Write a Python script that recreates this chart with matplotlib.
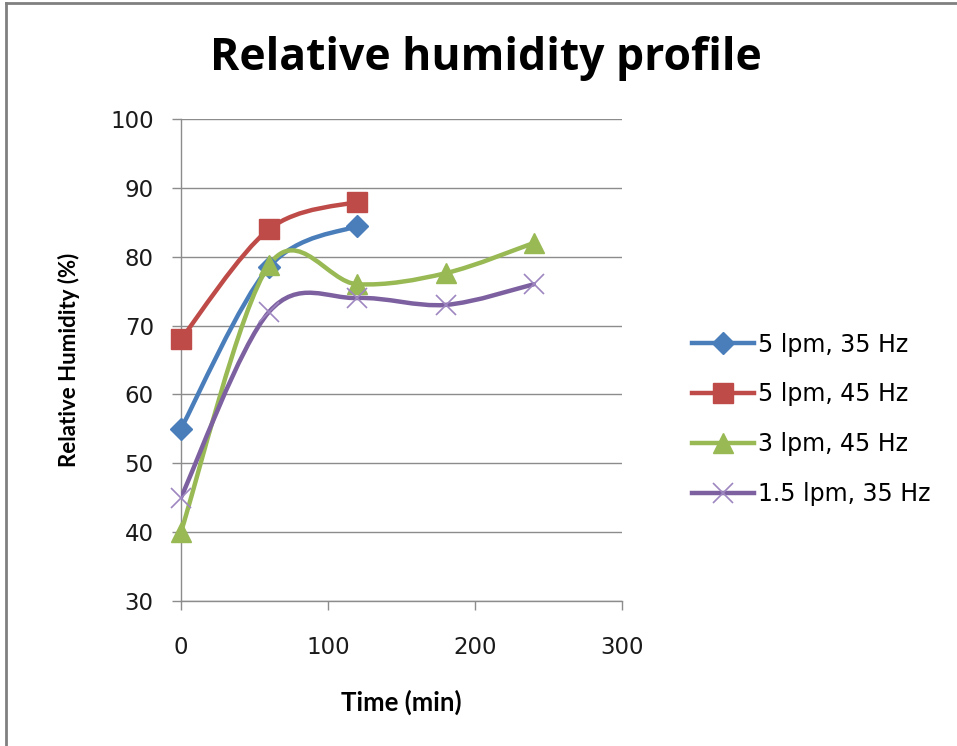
import numpy as np
import matplotlib
matplotlib.use("Agg")
import matplotlib.pyplot as plt
from matplotlib.path import Path
from matplotlib.patches import PathPatch
from matplotlib.lines import Line2D

plt.rcParams['font.family'] = ['DejaVu Sans']

# Series data: time (min) and relative humidity (%)
time_5_35 = [0, 60, 120]
rh_5_35 = [55, 78.5, 84.5]
time_5_45 = [0, 60, 120]
rh_5_45 = [68, 84, 88]
time_3_45 = [0, 60, 120, 180, 240]
rh_3_45 = [40, 78.8, 76, 77.6, 82]
time_15_35 = [0, 60, 120, 180, 240]
rh_15_35 = [45, 72, 74, 73, 76]

labels = ["5 lpm, 35 Hz", "5 lpm, 45 Hz", "3 lpm, 45 Hz", "1.5 lpm, 35 Hz"]
colors = ["#4A7EBB", "#BE4B48", "#98B954", "#7D60A0"]
marker_colors = ["#4A7EBB", "#BE4B48", "#98B954", "#9E86C0"]
markers = ["D", "s", "^", "x"]
msizes = [11, 14, 14, 14]

x_ticks = [0, 100, 200, 300]
y_ticks = [30, 40, 50, 60, 70, 80, 90, 100]

heading_font = ['Lato', 'DejaVu Sans']
title_font = ['Open Sans', 'DejaVu Sans']


def smooth_path(x, y):
    """Cubic Bezier curve through the points (cardinal spline, like spreadsheet smoothing)."""
    x = np.asarray(x, float)
    y = np.asarray(y, float)
    pts = np.column_stack([x, y])
    n = len(pts)
    verts = [pts[0]]
    codes = [Path.MOVETO]
    for i in range(n - 1):
        p0 = pts[i - 1] if i > 0 else pts[i]
        p1 = pts[i]
        p2 = pts[i + 1]
        p3 = pts[i + 2] if i + 2 < n else pts[i + 1]
        c1 = p1 + (p2 - p0) / 6.0
        c2 = p2 - (p3 - p1) / 6.0
        verts += [c1, c2, p2]
        codes += [Path.CURVE4] * 3
    return Path(verts, codes)


fig = plt.figure(figsize=(9.57, 7.46), dpi=100)
ax = fig.add_axes([0.189, 0.1944, 0.461, 0.6461])

series = [(time_5_35, rh_5_35), (time_5_45, rh_5_45),
          (time_3_45, rh_3_45), (time_15_35, rh_15_35)]

handles = []
for (xs, ys), lab, c, mc, m, ms in zip(series, labels, colors, marker_colors, markers, msizes):
    patch = PathPatch(smooth_path(xs, ys), facecolor="none", edgecolor=c,
                      lw=3.2, capstyle="round", joinstyle="round", zorder=3)
    ax.add_patch(patch)
    if m == "x":
        ax.plot(xs, ys, ls="none", marker=m, ms=ms, mec=mc, mew=1.2, zorder=4, clip_on=False)
    else:
        ax.plot(xs, ys, ls="none", marker=m, ms=ms, mfc=mc, mec=mc, zorder=4, clip_on=False)
    handles.append(Line2D([], [], color=c, lw=3.2, marker=m, ms=ms,
                          mfc=mc, mec=mc, mew=1.2 if m == "x" else 1.0))

ax.set_xlim(0, 300)
ax.set_ylim(30, 100)
ax.set_xticks(x_ticks)
ax.set_yticks(y_ticks)
ax.grid(axis="y", color="#8C8C8C", lw=1.0)
ax.set_axisbelow(True)
for s in ["top", "right"]:
    ax.spines[s].set_visible(False)
for s in ["left", "bottom"]:
    ax.spines[s].set_color("#8C8C8C")
    ax.spines[s].set_linewidth(1.0)
ax.tick_params(axis="both", direction="out", length=6.5, width=1.0, color="#8C8C8C",
               labelsize=16.5, labelcolor="#1a1a1a")
ax.tick_params(axis="x", pad=19)
ax.tick_params(axis="y", pad=13)
ax.set_xlabel("Time (min)", fontsize=18.5, fontweight="bold", labelpad=22,
              family=heading_font)
ax.set_ylabel("Relative Humidity (%)", fontsize=16, fontweight="bold", labelpad=22,
              family=heading_font)

fig.text(0.508, 0.922, "Relative humidity profile", ha="center", va="center",
         fontsize=32, fontweight="bold", family=title_font)

fig.legend(handles, labels, loc="center left", bbox_to_anchor=(0.701, 0.438),
           frameon=False, handlelength=2.64, handletextpad=0.14,
           labelspacing=1.09, prop={'family': 'DejaVu Sans', 'size': 17})

# Chart frame border
fig.add_artist(Line2D([0.006, 0.006], [0.0, 0.996], transform=fig.transFigure,
                      color="#808080", lw=2))
fig.add_artist(Line2D([0.006, 1.0], [0.996, 0.996], transform=fig.transFigure,
                      color="#808080", lw=2))

fig.savefig("out.png", dpi=100)
